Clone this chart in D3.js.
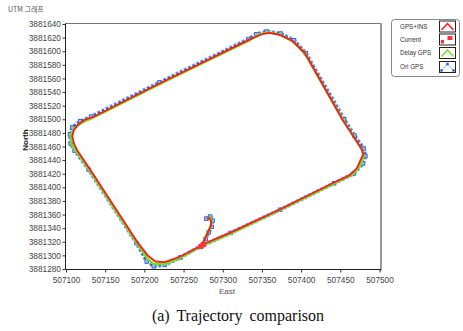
<!DOCTYPE html>
<html>
<head>
<meta charset="utf-8">
<script src="https://cdn.jsdelivr.net/npm/d3@7"></script>
<style>
  body { margin:0; background:#fff; }
  svg { display:block; }
</style>
</head>
<body>
<div id="chart"></div>
<script>
// UTM trajectory comparison
const xTicks = [507100,507150,507200,507250,507300,507350,507400,507450,507500];
const yTicks = [3881280,3881300,3881320,3881340,3881360,3881380,3881400,3881420,3881440,
  3881460,3881480,3881500,3881520,3881540,3881560,3881580,3881600,3881620,3881640];

const legendNames = ["GPS+INS","Current","Delay GPS","Ori GPS"];

// GPS+INS fused track [east, north]
const insPath = [
  [507280,3881353],[507283,3881355],[507285,3881351],[507285,3881344],[507282,3881336],
  [507278,3881326],[507274,3881316],[507309,3881333],[507372,3881367],[507440,3881406],
  [507462,3881418],[507471,3881428],[507479,3881448],[507478,3881455],[507466,3881476],
  [507453,3881499],[507405,3881597],[507389,3881615],[507373,3881624],[507360,3881627],
  [507350,3881625],[507334,3881617],[507220,3881553],[507134,3881503],[507125,3881500],
  [507115,3881492],[507110,3881484],[507108,3881475],[507110,3881465],[507114,3881455],
  [507131,3881426],[507192,3881318],[507205,3881299],[507214,3881291],[507226,3881290],
  [507245,3881298],[507274,3881315]
];
// current position
const currentPos = [[507272,3881313],[507275,3881316]];
// delayed GPS
const delayPath = [
  [507281,3881352],[507284,3881356],[507286,3881350],[507285,3881343],[507281,3881334],
  [507277,3881325],[507273,3881314],[507310,3881332],[507372,3881366],[507441,3881405],
  [507466,3881419],[507476,3881433],[507480,3881446],[507477,3881456],[507467,3881475],
  [507454,3881498],[507405,3881596],[507390,3881614],[507374,3881624],[507358,3881628],
  [507345,3881624],[507334,3881616],[507220,3881552],[507134,3881502],[507120,3881495],
  [507110,3881486],[507106,3881476],[507107,3881463],[507113,3881453],[507130,3881425],
  [507191,3881317],[507204,3881295],[507212,3881287],[507228,3881288],[507247,3881297],
  [507273,3881314]
];
// original GPS
const oriPath = [
  [507279,3881354],[507284,3881357],[507287,3881351],[507286,3881342],[507282,3881334],
  [507278,3881324],[507275,3881315],[507310,3881333],[507373,3881367],[507442,3881406],
  [507467,3881420],[507479,3881435],[507482,3881446],[507480,3881457],[507468,3881476],
  [507455,3881500],[507406,3881597],[507391,3881616],[507374,3881626],[507356,3881629],
  [507343,3881625],[507333,3881618],[507219,3881554],[507132,3881504],[507118,3881497],
  [507108,3881488],[507105,3881478],[507106,3881464],[507111,3881454],[507129,3881426],
  [507190,3881318],[507203,3881291],[507212,3881284],[507226,3881286],[507246,3881297],
  [507275,3881316]
];

const W = 463, H = 331;
const plot = {left:65.5, top:23.5, right:381, bottom:269.5};

const svg = d3.select("#chart").append("svg")
  .attr("width", W).attr("height", H);

const x = d3.scaleLinear().domain([507100,507500]).range([66,379.5]);
const y = d3.scaleLinear().domain([3881280,3881640]).range([269,24]);

const font = "'Liberation Sans', Arial, sans-serif";

// title
svg.append("text").attr("x",8).attr("y",12)
  .attr("font-family","'Noto Sans CJK KR', sans-serif").attr("font-size",7)
  .attr("fill","#555").text("UTM 그래프");

// frame
svg.append("rect")
  .attr("x",plot.left).attr("y",plot.top)
  .attr("width",plot.right-plot.left).attr("height",plot.bottom-plot.top)
  .attr("fill","none").attr("stroke","#777").attr("stroke-width",1);
svg.append("line").attr("x1",plot.right).attr("x2",plot.right)
  .attr("y1",plot.top).attr("y2",plot.bottom+1)
  .attr("stroke","#999").attr("stroke-width",2);

// axes
const xAxis = svg.append("g")
  .attr("transform",`translate(0,${plot.bottom})`)
  .call(d3.axisBottom(x).tickValues(xTicks).tickFormat(d3.format("d")).tickSize(3).tickSizeOuter(0));
const yAxis = svg.append("g")
  .attr("transform",`translate(${plot.left},0)`)
  .call(d3.axisLeft(y).tickValues(yTicks).tickFormat(d3.format("d")).tickSize(3).tickSizeOuter(0));

[xAxis,yAxis].forEach(a => {
  a.select(".domain").attr("stroke","#222");
  a.selectAll(".tick line").attr("stroke","#333");
  a.selectAll("text").attr("font-family",font).attr("font-size",8.3).attr("fill","#444");
});
xAxis.selectAll("text").attr("dy","0.95em");
yAxis.selectAll("text").attr("x",-4.5);
yAxis.select(".domain").attr("d",`M0,${plot.top}V${plot.bottom}`);
xAxis.select(".domain").attr("d",`M${plot.left},0H${plot.right}`);

svg.append("text").attr("x",227).attr("y",294).attr("text-anchor","middle")
  .attr("font-family",font).attr("font-size",8).attr("fill","#555").text("East");
svg.append("text").attr("transform","translate(28,140) rotate(-90)").attr("text-anchor","middle")
  .attr("font-family",font).attr("font-size",8).attr("font-weight","bold").attr("fill","#111").text("North");

// tracks
const line = d3.line().x(d => x(d[0])).y(d => y(d[1])).curve(d3.curveLinear);
const g = svg.append("g");

g.append("path").datum(oriPath).attr("d",line)
  .attr("fill","none").attr("stroke","#7c9ff0").attr("stroke-width",4)
  .attr("stroke-dasharray","3,1.6");
g.append("path").datum(oriPath).attr("d",line)
  .attr("fill","none").attr("stroke","#1f4fd0").attr("stroke-width",1.4)
  .attr("stroke-dasharray","2.4,2.2");
g.selectAll(".ori").data(oriPath).join("rect")
  .attr("x",d => x(d[0])-1.8).attr("y",d => y(d[1])-1.8)
  .attr("width",3.6).attr("height",3.6)
  .attr("fill","#9fb8f5").attr("stroke","#2a5ad8").attr("stroke-width",0.8);

g.append("path").datum(delayPath).attr("d",line)
  .attr("fill","none").attr("stroke","#6ee21c").attr("stroke-width",2.4)
  .attr("stroke-linejoin","round");

g.append("path").datum(insPath).attr("d",line)
  .attr("fill","none").attr("stroke","#ff1a1a").attr("stroke-width",1.8)
  .attr("stroke-linejoin","round");

g.selectAll(".cur").data(currentPos).join("rect")
  .attr("x",d => x(d[0])-2.5).attr("y",d => y(d[1])-2.5)
  .attr("width",5).attr("height",5).attr("fill","#ff3030");

// legend
const lg = svg.append("g");
lg.append("rect").attr("x",391.5).attr("y",19.5).attr("width",68).attr("height",57).attr("rx",3)
  .attr("fill","#fff").attr("stroke","#888");
const rowY = [26.5,39.5,53,67];
lg.selectAll(".lt").data(legendNames).join("text")
  .attr("x",400).attr("y",(d,i) => rowY[i]+2.2)
  .attr("font-family",font).attr("font-size",6.3).attr("fill","#333").text(d => d);
rowY.forEach((cy,i) => {
  const sx = 439.5, sy = cy-5.5, sw = 16, sh = 11;
  lg.append("rect").attr("x",sx).attr("y",sy).attr("width",sw).attr("height",sh)
    .attr("fill","#fff").attr("stroke","#222").attr("stroke-width",1);
  const caret = `M${sx+2},${sy+sh-2}L${sx+sw/2},${sy+2.5}L${sx+sw-2},${sy+sh-2}`;
  if (i === 0) lg.append("path").attr("d",caret).attr("fill","none").attr("stroke","#ff1a1a").attr("stroke-width",1.5);
  if (i === 1) {
    lg.append("rect").attr("x",sx+1.5).attr("y",sy+6).attr("width",3).attr("height",3.5).attr("fill","#ff3030");
    lg.append("rect").attr("x",sx+8).attr("y",sy+2).attr("width",5).attr("height",4).attr("fill","#ff3030");
  }
  if (i === 2) lg.append("path").attr("d",caret).attr("fill","none").attr("stroke","#6ee21c").attr("stroke-width",1.5);
  if (i === 3) {
    lg.append("path").attr("d",caret).attr("fill","none").attr("stroke","#2a5ad8").attr("stroke-width",1)
      .attr("stroke-dasharray","1.5,1.5");
    [[sx+2,sy+sh-2],[sx+sw/2,sy+2.5],[sx+sw-2,sy+sh-2]].forEach(p => {
      lg.append("rect").attr("x",p[0]-1.2).attr("y",p[1]-1.2).attr("width",2.4).attr("height",2.4)
        .attr("fill","#2a5ad8");
    });
  }
});

// caption
svg.append("text").attr("x",238).attr("y",321).attr("text-anchor","middle")
  .attr("font-family","'Liberation Serif', 'Times New Roman', serif").attr("font-size",16)
  .attr("word-spacing",3).attr("fill","#111").text("(a) Trajectory comparison");
</script>
</body>
</html>
